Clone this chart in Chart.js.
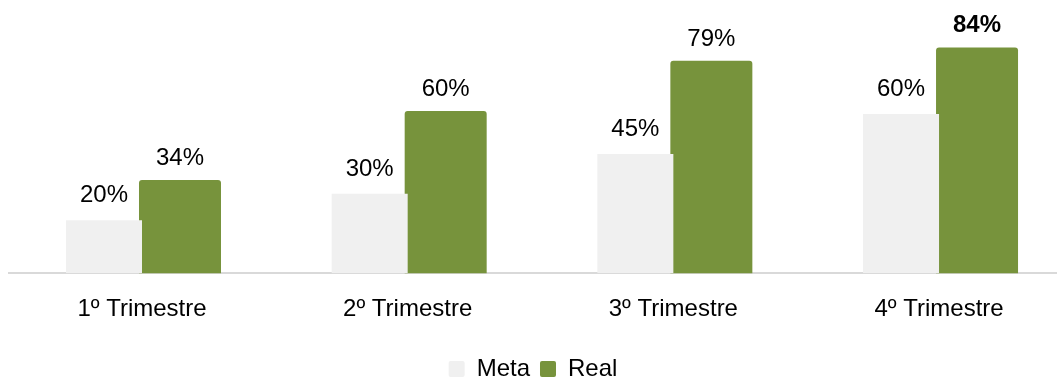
<!DOCTYPE html>
<html>
<head>
<meta charset="utf-8">
<script src="https://cdn.jsdelivr.net/npm/chart.js@4/dist/chart.umd.min.js"></script>
<style>
html,body{margin:0;padding:0;background:#fff;}
#wrap{width:1057px;height:377px;position:relative;}
</style>
</head>
<body>
<div id="wrap"><canvas id="c"></canvas></div>
<script>
const categories = ['1º Trimestre', '2º Trimestre', '3º Trimestre', '4º Trimestre'];
const metaValues = [20, 30, 45, 60];
const realValues = [34, 60, 79, 84];
const seriesNames = ['Meta', 'Real'];

const FONT = "'Liberation Sans', Arial, sans-serif";
const FSIZE = 24;
const PAD_BOTTOM = -14;

const labelPlugin = {
  id: 'valueLabels',
  afterDatasetsDraw(chart) {
    const ctx = chart.ctx;
    ctx.save();
    ctx.fillStyle = '#000';
    ctx.textAlign = 'center';
    ctx.textBaseline = 'alphabetic';
    chart.data.datasets.forEach((ds, di) => {
      const meta = chart.getDatasetMeta(di);
      meta.data.forEach((el, i) => {
        const v = ds.data[i].y;
        const bold = (di === 1 && i === ds.data.length - 1);
        ctx.font = (bold ? 'bold ' : '') + FSIZE + 'px ' + FONT;
        ctx.fillText(v + '%', el.x, el.y - 18);
      });
    });
    ctx.restore();
  }
};

new Chart(document.getElementById('c'), {
  type: 'bar',
  data: {
    datasets: [
      {
        label: seriesNames[0],
        data: metaValues.map((v, i) => ({x: i, y: v})),
        backgroundColor: '#f0f0f0',
        barThickness: 76,
        inflateAmount: 0
      },
      {
        label: seriesNames[1],
        data: realValues.map((v, i) => ({x: i, y: v})),
        backgroundColor: '#77933c',
        barThickness: 76,
        inflateAmount: 3,
        borderRadius: 3,
        borderSkipped: false
      }
    ]
  },
  options: {
    responsive: true,
    maintainAspectRatio: false,
    animation: false,
    layout: {padding: {left: 9, right: 0, top: 8, bottom: PAD_BOTTOM}},
    plugins: {
      legend: {
        position: 'bottom',
        labels: {
          font: {family: FONT, size: FSIZE},
          color: '#000',
          boxWidth: 16,
          boxHeight: 16,
          padding: 10,
          useBorderRadius: true,
          borderRadius: 2
        }
      },
      tooltip: {enabled: false}
    },
    scales: {
      x: {
        type: 'linear',
        min: -0.5006,
        max: 3.444,
        offset: false,
        bounds: 'data',
        grace: 0,
        z: 1,
        grid: {display: false},
        border: {display: true, color: '#d9d9d9', width: 2},
        afterBuildTicks(scale) {
          scale.ticks = categories.map((c, i) => ({value: i}));
        },
        afterFit(scale) {
          const lh = scale.chart.legend ? scale.chart.legend.height : 50;
          scale.height = scale.chart.height - PAD_BOTTOM - lh - 273.3;
        },
        ticks: {
          autoSkip: false,
          maxRotation: 0,
          padding: 14,
          color: '#000',
          font: {family: FONT, size: FSIZE},
          callback: (v) => categories[v]
        }
      },
      y: {
        display: false,
        min: 0,
        max: 100
      }
    }
  },
  plugins: [labelPlugin]
});
</script>
</body>
</html>
